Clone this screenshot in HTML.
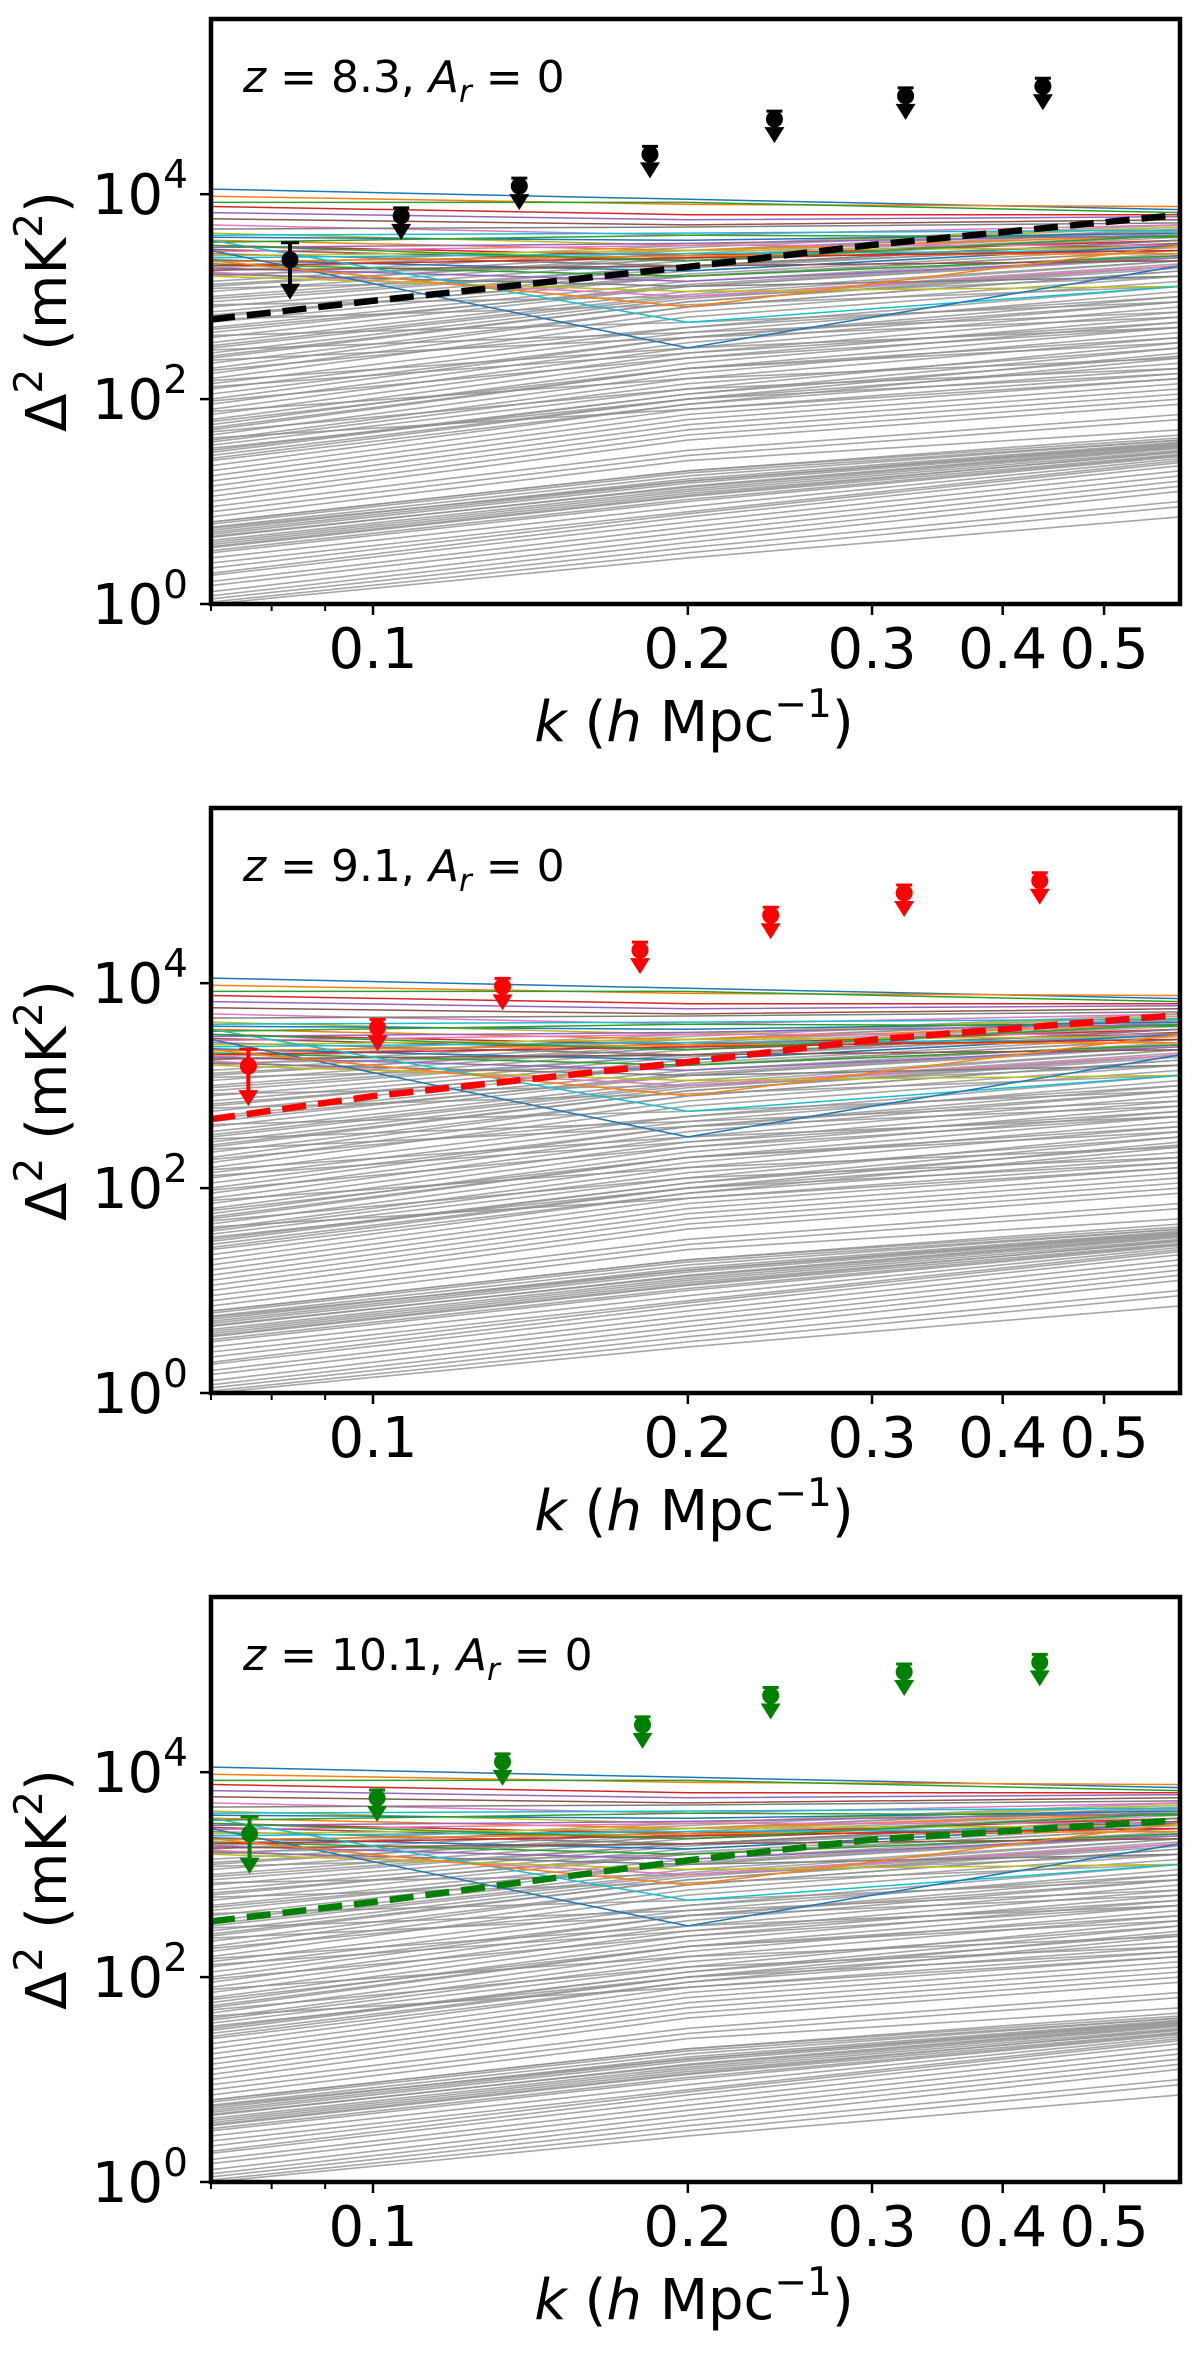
<!DOCTYPE html>
<html><head><meta charset="utf-8"><style>
html,body{margin:0;padding:0;background:#fff}
svg text{font-family:"DejaVu Sans","Liberation Sans",sans-serif;fill:#000}
</style></head><body>
<svg id="fig" xmlns="http://www.w3.org/2000/svg" width="1200" height="2351" viewBox="0 0 1200 2351"></svg>
<script>
// ---- data ----
const kMin = 0.07, kMax = 0.591, yDecMax = 5.71;
const xTicks = [0.1, 0.2, 0.3, 0.4, 0.5];
const xTickLabels = ["0.1", "0.2", "0.3", "0.4", "0.5"];
const xMinorTicks = [0.07, 0.08, 0.09];
const yTicksExp = [0, 2, 4];
const bgNodesK = [0.07, 0.2, 0.591];
// gray model curves (log10 Δ² at bgNodesK)
const grayL = [3.3,3.25,3.2,3.15,3.1,3.05,3.0,2.95,2.9,2.85,2.8,2.75,2.7,2.65,2.6,2.55,2.5,2.45,2.4,2.35,3.28,3.12,2.98,2.82,2.68,2.52,2.42,2.3,2.25,2.2,
 3.22,3.08,2.92,2.78,2.62,2.48,2.38,2.28,2.18,2.12,
 2.15,2.1,2.0,1.95,1.9,1.85,1.8,1.75,1.7,1.65,1.6,1.55,1.5,1.45,1.4,2.05,1.72,1.58,1.48,1.42,
 1.98,1.88,1.78,1.68,1.62,1.52,
 1.35,1.3,1.25,1.2,1.15,1.1,1.05,1.0,0.95,0.9,0.85,0.8,
 0.8,0.75,0.72,0.7,0.68,0.65,0.62,0.6,0.58,0.55,0.5,0.45,0.4,0.35,0.3,0.78,0.74,0.66,0.56,0.52,
 0.28,0.22,0.18,0.12,0.08,0.05,0.02,0.0];
const grayM = [3.5,3.48,3.45,3.42,3.4,3.38,3.35,3.3,3.28,3.25,3.22,3.2,3.15,3.12,3.1,3.05,3.0,2.98,2.95,2.9,3.45,3.37,3.3,3.2,3.1,3.02,2.95,2.9,2.85,2.8,
 3.3,3.2,3.0,2.92,2.75,2.65,2.6,2.7,2.5,2.45,
 2.7,2.65,2.6,2.55,2.5,2.45,2.4,2.35,2.3,2.25,2.2,2.1,2.05,2.0,1.95,2.6,2.3,2.15,2.05,2.0,
 2.4,2.2,2.3,2.1,1.9,2.0,
 1.95,1.9,1.85,1.8,1.75,1.7,1.65,1.6,1.5,1.45,1.4,1.3,
 1.3,1.25,1.22,1.2,1.18,1.15,1.12,1.1,1.08,1.05,1.0,0.95,0.9,0.88,0.85,1.28,1.2,1.14,1.06,1.02,
 0.8,0.75,0.7,0.65,0.6,0.55,0.5,0.45];
const grayR = [3.7,3.68,3.66,3.64,3.62,3.6,3.58,3.55,3.52,3.5,3.48,3.45,3.42,3.4,3.38,3.35,3.32,3.3,3.28,3.25,3.65,3.6,3.55,3.45,3.4,3.35,3.3,3.25,3.2,3.15,
 3.5,3.4,3.2,3.1,2.95,2.85,2.8,3.0,2.7,2.75,
 3.1,3.05,3.0,2.95,2.9,2.85,2.8,2.75,2.7,2.65,2.6,2.55,2.5,2.45,2.4,2.95,2.6,2.5,2.42,2.35,
 2.7,2.4,2.55,2.3,2.2,2.25,
 2.3,2.25,2.2,2.15,2.1,2.05,2.0,1.95,1.85,1.8,1.7,1.65,
 1.62,1.6,1.58,1.56,1.55,1.54,1.52,1.5,1.48,1.46,1.44,1.42,1.4,1.38,1.35,1.6,1.57,1.53,1.49,1.45,
 1.3,1.25,1.2,1.15,1.1,1.0,0.95,0.85];
// colored (accepted) model curves
const colL = [4.05,3.98,3.92,3.88,3.82,3.76,3.7,3.66,3.62,3.6,3.58,3.55,3.53,3.5,3.48,3.46,3.44,3.42,3.4,3.38,3.36,3.34,3.32,3.3,3.28,3.26,3.24,3.22,3.2,3.55,3.45,3.35,3.5];
const colM = [3.95,3.9,3.92,3.8,3.75,3.7,3.6,3.68,3.5,3.62,3.55,3.45,3.6,3.4,3.52,3.35,3.5,3.3,3.45,3.42,3.25,3.4,3.2,3.38,3.15,3.3,3.0,3.1,3.05,2.75,2.5,2.9,3.35];
const colR = [3.85,3.88,3.82,3.8,3.78,3.75,3.7,3.72,3.68,3.65,3.62,3.6,3.58,3.55,3.6,3.52,3.5,3.55,3.48,3.45,3.5,3.42,3.4,3.45,3.38,3.35,3.3,3.2,3.1,3.1,3.3,3.5,3.6];
const tab10 = ["#1f77b4","#ff7f0e","#2ca02c","#d62728","#9467bd","#8c564b","#e377c2","#7f7f7f","#bcbd22","#17becf"];
// panel-specific data
const titles = ["8.3", "9.1", "10.1"];
const obsColors = ["#000000", "#ff0000", "#008000"];
const obsK = [
  [0.0833,0.1064,0.138,0.184,0.242,0.323,0.437],
  [0.076,0.101,0.133,0.180,0.240,0.322,0.434],
  [0.0762,0.1009,0.133,0.181,0.240,0.322,0.434]];
const obsVal = [
  [2290,6150,12000,24500,54000,91000,113000],
  [1550,3700,9300,21000,46000,76000,100000],
  [2500,5600,12600,29000,56000,95000,118000]];
const dashK = [0.07, 0.1, 0.2, 0.3, 0.591];
const dashVal = [
  [600, 910, 1950, 3200, 6300],
  [470, 790, 1700, 2800, 4900],
  [350, 540, 1380, 2200, 3400]];
const panelTops = [19, 808, 1597];

// ---- drawing ----
const NS = "http://www.w3.org/2000/svg";
const svg = document.getElementById("fig");
const L = 211, R = 1180, H = 585;
const lk0 = Math.log10(kMin), lk1 = Math.log10(kMax);
function X(k){ return L + (Math.log10(k) - lk0) / (lk1 - lk0) * (R - L); }
function mk(tag, attrs, parent){ const e = document.createElementNS(NS, tag); for (const a in attrs) e.setAttribute(a, attrs[a]); (parent||svg).appendChild(e); return e; }

panelTops.forEach((top, p) => {
  const Yl = d => top + H - d / yDecMax * H;
  const Y = v => Yl(Math.log10(v));
  const g = mk("g", {});
  
  
  const clipId = "clip" + p;
  const cp = mk("clipPath", {id: clipId}, g);
  mk("rect", {x: L, y: top, width: R - L, height: H}, cp);
  const plot = mk("g", {"clip-path": "url(#" + clipId + ")"}, g);
  const gg = mk("g", {}, plot);
  
  
  for (let i = 0; i < grayL.length; i++) {
    const vals = [grayL[i], grayM[i], grayR[i]];
    const pts = bgNodesK.map((k, j) => X(k).toFixed(1) + "," + Yl(vals[j]).toFixed(1)).join(" ");
    const pl = mk("polyline", {points: pts, fill: "none", stroke: "#909090", "stroke-width": 1.6, "stroke-opacity": 0.8}, gg);
    
    
  }
  const cg = mk("g", {}, plot);
  
  
  for (let i = 0; i < colL.length; i++) {
    const vals = [colL[i], colM[i], colR[i]];
    const pts = bgNodesK.map((k, j) => X(k).toFixed(1) + "," + Yl(vals[j]).toFixed(1)).join(" ");
    const pl = mk("polyline", {points: pts, fill: "none", stroke: tab10[i % 10], "stroke-width": 1.5}, cg);
    
    
  }
  const dpts = dashK.map((k, j) => X(k).toFixed(1) + "," + Y(dashVal[p][j]).toFixed(1)).join(" ");
  const dl = mk("polyline", {points: dpts, fill: "none", stroke: obsColors[p], "stroke-width": 6.5, "stroke-dasharray": "24,12"}, plot);
  
  
  obsK[p].forEach((k, j) => {
    const cx = X(k), cy = Y(obsVal[p][j]);
    const c = obsColors[p];
    const mg = mk("g", {}, plot);
    
    
    const alen = j === 0 ? 38 : 22;
    if (j === 0) {
      mk("line", {x1: cx - 9, x2: cx + 9, y1: cy - 17, y2: cy - 17, stroke: c, "stroke-width": 3}, mg);
      mk("line", {x1: cx, x2: cx, y1: cy - 17, y2: cy + alen - 10, stroke: c, "stroke-width": 4}, mg);
    } else {
      mk("line", {x1: cx - 8, x2: cx + 8, y1: cy - 8, y2: cy - 8, stroke: c, "stroke-width": 3}, mg);
      mk("line", {x1: cx, x2: cx, y1: cy, y2: cy + alen - 10, stroke: c, "stroke-width": 4}, mg);
    }
    mk("polygon", {points: (cx - 10) + "," + (cy + alen - 14) + " " + (cx + 10) + "," + (cy + alen - 14) + " " + cx + "," + (cy + alen + 2), fill: c}, mg);
    mk("circle", {cx: cx, cy: cy, r: 8.5, fill: c}, mg);
  });
  const fr = mk("rect", {x: L, y: top, width: R - L, height: H, fill: "none", stroke: "#000", "stroke-width": 4.5}, g);
  
  
  xTicks.forEach((k, i) => {
    const x = X(k);
    mk("line", {x1: x, x2: x, y1: top + H, y2: top + H + 11, stroke: "#000", "stroke-width": 2.5}, g);
    const t = mk("text", {x: x, y: top + H + 64, "font-size": 56, "text-anchor": "middle"}, g);
    t.textContent = xTickLabels[i];
    
    
  });
  xMinorTicks.forEach(k => { const x = X(k); mk("line", {x1: x, x2: x, y1: top + H, y2: top + H + 7, stroke: "#000", "stroke-width": 2}, g); });
  yTicksExp.forEach(e => {
    const y = Yl(e);
    mk("line", {x1: L - 11, x2: L, y1: y, y2: y, stroke: "#000", "stroke-width": 2.5}, g);
    const t = mk("text", {x: 188, y: y + 20, "font-size": 56, "text-anchor": "end"}, g);
    t.textContent = "10";
    const s = mk("tspan", {dy: -26, "font-size": 39}, t);
    s.textContent = String(e);
    
    
  });
  const yl = mk("text", {x: 0, y: 0, "font-size": 56, "text-anchor": "middle", transform: "translate(66," + (top + H / 2) + ") rotate(-90)"}, g);
  yl.innerHTML = 'Δ<tspan dy="-24" font-size="39">2</tspan><tspan dy="24"> (mK</tspan><tspan dy="-24" font-size="39">2</tspan><tspan dy="24">)</tspan>';
  
  
  const xl = mk("text", {x: 694, y: top + H + 137, "font-size": 56, "text-anchor": "middle"}, g);
  xl.innerHTML = '<tspan font-style="italic">k</tspan> (<tspan font-style="italic">h</tspan> Mpc<tspan dy="-24" font-size="39">−1</tspan><tspan dy="24">)</tspan>';
  
  
  const tt = mk("text", {x: 243, y: top + 73, "font-size": 44}, g);
  tt.innerHTML = '<tspan font-style="italic">z</tspan> = ' + titles[p] + ', <tspan font-style="italic">A</tspan><tspan font-style="italic" font-size="31" dy="10">r</tspan><tspan dy="-10"> = 0</tspan>';
  
  
});
</script>
</body></html>
